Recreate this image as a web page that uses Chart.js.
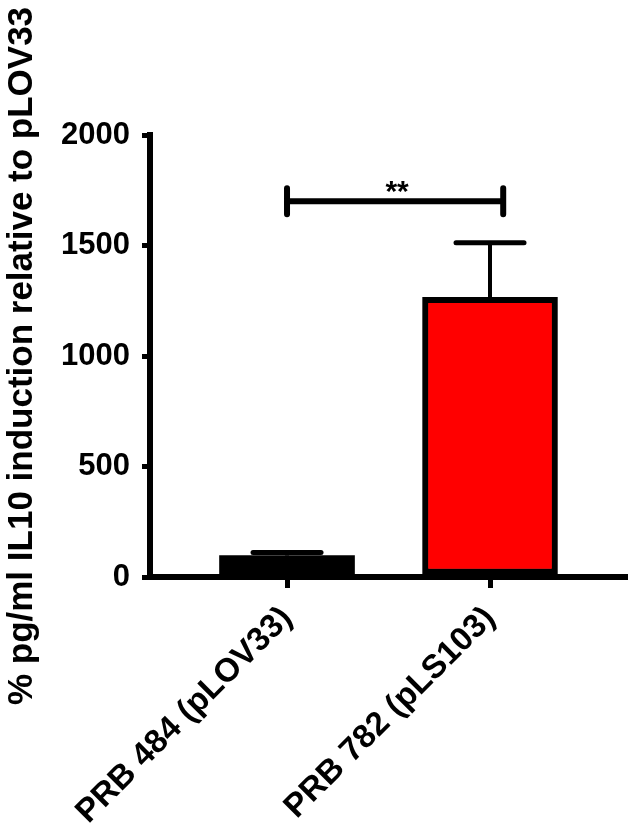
<!DOCTYPE html>
<html>
<head>
<meta charset="utf-8">
<title>IL10 induction relative to pLOV33</title>
<script src="https://cdn.jsdelivr.net/npm/chart.js@4.4.1/dist/chart.umd.min.js"></script>
<style>
  html, body { margin: 0; padding: 0; background: #fff; }
  #chart { display: block; }
</style>
</head>
<body>
<canvas id="chart" width="630" height="830"></canvas>
<script>
// data
const categories = ["PRB 484 (pLOV33)", "PRB 782 (pLS103)"];
const means = [97, 1265];
const sems = [14, 248];
const barColors = ["#000000", "#ff0000"];
const yTicks = [0, 500, 1000, 1500, 2000];
const sigEnds = [1, 2.065];   // bracket ends, x units (bar 1 .. just right of bar 2)
const sigLevel = 1700;
const sigLabel = "**";

const FONT = "'Liberation Sans', Arial, Helvetica, sans-serif";
const INK = "#000";

// error bars + significance bracket
const extras = {
  id: "extras",
  afterDatasetsDraw(chart) {
    const { ctx, scales: { x, y } } = chart;
    ctx.save();
    ctx.strokeStyle = INK;
    means.forEach((m, i) => {
      const px = x.getPixelForValue(i + 1);
      const top = y.getPixelForValue(m), cap = y.getPixelForValue(m + sems[i]);
      ctx.lineWidth = 4; ctx.lineCap = "butt";
      ctx.beginPath(); ctx.moveTo(px, top); ctx.lineTo(px, cap); ctx.stroke();
      ctx.lineWidth = 5; ctx.lineCap = "round";
      ctx.beginPath(); ctx.moveTo(px - 34, cap); ctx.lineTo(px + 34, cap); ctx.stroke();
    });
    const x1 = x.getPixelForValue(sigEnds[0]), x2 = x.getPixelForValue(sigEnds[1]);
    const yb = y.getPixelForValue(sigLevel);
    ctx.lineWidth = 6; ctx.lineCap = "round";
    ctx.beginPath();
    ctx.moveTo(x1, yb); ctx.lineTo(x2, yb);
    ctx.moveTo(x1, yb - 13); ctx.lineTo(x1, yb + 13);
    ctx.moveTo(x2, yb - 13); ctx.lineTo(x2, yb + 13);
    ctx.stroke();
    ctx.fillStyle = INK;
    ctx.font = "bold 30px " + FONT;
    ctx.textAlign = "center"; ctx.textBaseline = "alphabetic";
    ctx.fillText(sigLabel, (x1 + x2) / 2 + 2, yb);
    ctx.restore();
  }
};

new Chart(document.getElementById("chart"), {
  type: "bar",
  data: {
    datasets: [{
      data: means.map((v, i) => ({ x: i + 1, y: v })),
      backgroundColor: barColors,
      borderColor: INK,
      borderWidth: [0, 6],
      borderSkipped: false,
      barThickness: 135,
    }]
  },
  options: {
    responsive: false,
    animation: false,
    layout: { padding: { top: 135, right: 5, left: 0, bottom: 0 } },
    plugins: { legend: { display: false }, tooltip: { enabled: false } },
    scales: {
      x: {
        type: "linear",
        min: 0.325, max: 2.665,
        offset: false,
        z: 1,
        afterBuildTicks: (s) => { s.ticks = categories.map((_, i) => ({ value: i + 1 })); },
        afterFit: (s) => { s.height = 253; s.paddingLeft = 0; s.paddingRight = 0; },
        grid: { display: true, offset: false, drawOnChartArea: false, drawTicks: true, tickLength: 11, lineWidth: 5, color: INK },
        border: { display: true, width: 6, color: INK },
        ticks: {
          autoSkip: false, minRotation: 45, maxRotation: 45, padding: 11,
          color: INK, font: { family: FONT, size: 33, weight: "bold" },
          callback: (v) => categories[Math.round(v) - 1] || "",
        },
      },
      y: {
        min: 0, max: 2000,
        afterBuildTicks: (s) => { s.ticks = yTicks.map((v) => ({ value: v })); },
        afterFit: (s) => { s.width = 150; s.paddingTop = 0; s.paddingBottom = 0; },
        grid: { display: true, drawOnChartArea: false, drawTicks: true, tickLength: 8, lineWidth: 5, color: INK },
        border: { display: true, width: 6, color: INK },
        ticks: {
          padding: 12, color: INK, font: { family: FONT, size: 31, weight: "bold" },
          callback: (v) => String(v),
        },
        title: {
          display: true, text: "% pg/ml IL10 induction relative to pLOV33",
          color: INK, padding: { top: 1, bottom: 0 },
          font: { family: FONT, size: 35, weight: "bold" },
        },
      },
    },
  },
  plugins: [extras],
});
</script>
</body>
</html>
